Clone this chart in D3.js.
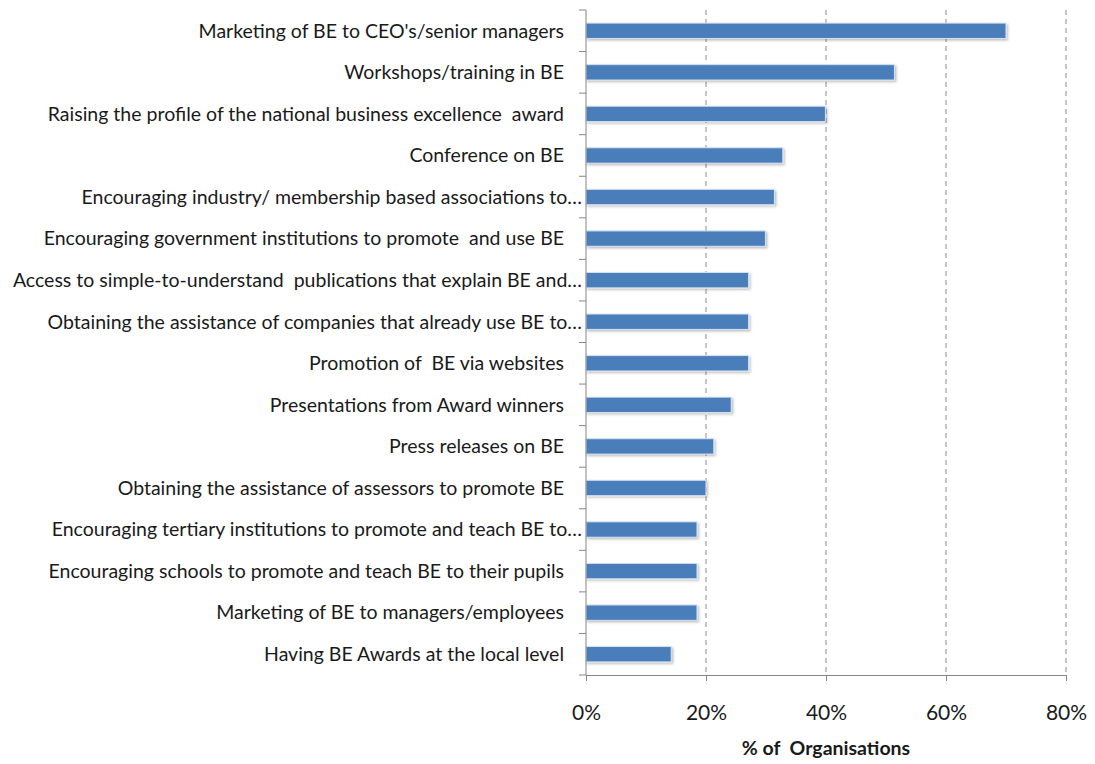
<!DOCTYPE html>
<html>
<head>
<meta charset="utf-8">
<script src="https://cdn.jsdelivr.net/npm/d3@7"></script>
<style>
  html, body { margin: 0; padding: 0; background: #fff; }
  svg { display: block; }
  text { font-family: Lato, "Open Sans", sans-serif; fill: #1a1a1a; white-space: pre; }
</style>
</head>
<body>
<svg id="chart" width="1095" height="764"></svg>
<script>
// Activities used to promote Business Excellence, top to bottom
const categories = [
  "Marketing of BE to CEO's/senior managers",
  "Workshops/training in BE",
  "Raising the profile of the national business excellence  award",
  "Conference on BE",
  "Encouraging industry/ membership based associations to…",
  "Encouraging government institutions to promote  and use BE",
  "Access to simple-to-understand  publications that explain BE and…",
  "Obtaining the assistance of companies that already use BE to…",
  "Promotion of  BE via websites",
  "Presentations from Award winners",
  "Press releases on BE",
  "Obtaining the assistance of assessors to promote BE",
  "Encouraging tertiary institutions to promote and teach BE to…",
  "Encouraging schools to promote and teach BE to their pupils",
  "Marketing of BE to managers/employees",
  "Having BE Awards at the local level"
];
// Share of organisations (%)
const values = [70, 51.4, 39.9, 32.8, 31.4, 29.9, 27.1, 27.1, 27.1, 24.2, 21.3, 20, 18.5, 18.5, 18.5, 14.2];
const xTicks = [0, 20, 40, 60, 80];
const xTitle = "% of  Organisations";

const svg = d3.select("#chart");
const plotLeft = 586, plotRight = 1066, plotTop = 10, plotBottom = 675;

const x = d3.scaleLinear().domain([0, 80]).range([plotLeft, plotRight]);
const y = d3.scaleBand().domain(categories).range([plotTop, plotBottom]).paddingInner(0.63).paddingOuter(0.315);
const band = d3.scaleBand().domain(categories).range([plotTop, plotBottom]);

const defs = svg.append("defs");
const sh = defs.append("filter").attr("id", "shadow").attr("x", "-5%").attr("y", "-30%").attr("width", "110%").attr("height", "180%");
sh.append("feDropShadow").attr("dx", 1.5).attr("dy", 1.5).attr("stdDeviation", 1).attr("flood-color", "#000").attr("flood-opacity", 0.25);

// dashed vertical gridlines
svg.append("g").selectAll("line").data(xTicks.filter(d => d > 0)).join("line")
  .attr("x1", d => x(d)).attr("x2", d => x(d))
  .attr("y1", plotTop).attr("y2", plotBottom)
  .attr("stroke", "#8c8c8c").attr("stroke-width", 1).attr("stroke-dasharray", "5,4");

// bars
svg.append("g").selectAll("rect").data(values).join("rect")
  .attr("x", x(0))
  .attr("y", (d, i) => y(categories[i]))
  .attr("width", d => x(d) - x(0))
  .attr("height", y.bandwidth())
  .attr("fill", "#4a7ebb")
  .attr("stroke", "#d5e1f0").attr("stroke-width", 1)
  .attr("filter", "url(#shadow)");

// x axis
const xAxis = svg.append("g").attr("transform", `translate(0,${plotBottom})`)
  .call(d3.axisBottom(x).tickValues(xTicks).tickFormat(d => d + "%").tickSize(6).tickPadding(24));
xAxis.select(".domain").attr("stroke", "#868686");
xAxis.selectAll(".tick line").attr("stroke", "#868686");
xAxis.selectAll(".tick text").attr("font-size", 21).attr("font-family", "Lato, sans-serif").attr("fill", "#1a1a1a");

// y axis line and boundary ticks
svg.append("line").attr("x1", plotLeft).attr("x2", plotLeft).attr("y1", plotTop).attr("y2", plotBottom).attr("stroke", "#868686");
const bounds = categories.map(c => band(c)).concat([plotBottom]);
svg.append("g").selectAll("line").data(bounds).join("line")
  .attr("x1", plotLeft - 7).attr("x2", plotLeft).attr("y1", d => d).attr("y2", d => d)
  .attr("stroke", "#868686");

// category labels
svg.append("g").selectAll("text").data(categories).join("text")
  .attr("x", d => d.endsWith("…") ? plotLeft - 4 : plotLeft - 22)
  .attr("y", d => band(d) + band.bandwidth() / 2)
  .attr("dy", "0.35em")
  .attr("text-anchor", "end")
  .attr("font-size", 19.5)
  .text(d => d);

// axis title
svg.append("text").attr("x", 826).attr("y", 755).attr("text-anchor", "middle")
  .attr("font-size", 19.5).attr("font-weight", "bold").text(xTitle);
</script>
</body>
</html>
